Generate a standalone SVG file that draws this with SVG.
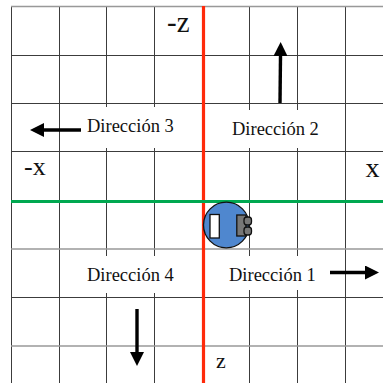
<svg xmlns="http://www.w3.org/2000/svg" width="383" height="383" viewBox="0 0 383 383">
<defs><marker id="a" markerUnits="userSpaceOnUse" markerWidth="15" markerHeight="14" refX="0" refY="7" orient="auto"><path d="M0 0L14 7L0 14Z" fill="#000"/></marker></defs>
<style>.g{stroke:#3c3c3c;stroke-width:1;fill:none}.l{stroke:#999;stroke-width:1.6}.t{font-family:"Liberation Serif",serif;fill:#111;font-size:18.5px}.c{stroke:#000;fill:none;stroke-width:3.4;marker-end:url(#a)}.m{fill:#fff;stroke:none}.r{stroke:#111;stroke-width:1.3}</style>
<rect width="383" height="383" fill="#fff"/>
<g id="grid">
<path class="g" d="M11.500 6V383M59.500 6V383M106.500 6V383M154.500 6V383M249.500 6V383M297.500 6V383M345.500 6V383"/>
<path class="g" d="M11 6.500H383M11 55.500H383M11 103.500H383M11 151.500H383"/>
<path class="g" d="M11 297.500H383"/>
<path class="l" d="M11 249H383M11 346H383M11 6.500H383"/>
</g>
<g id="axes">
<path d="M203.500 6V383" stroke="#ff2a0a" stroke-width="3.2" fill="none"/>
<path d="M11 201.500H383" stroke="#00a850" stroke-width="3.2" fill="none"/>
</g>
<g id="robot">
<circle class="r" cx="226.300" cy="225" r="22.800" fill="#4f87cf"/>
<rect class="r" x="210" y="214.500" width="9.300" height="23.500" fill="#fff"/>
<rect class="r" x="236.800" y="215" width="9.200" height="21" fill="#777"/>
<rect class="r" x="244" y="217" width="7.500" height="8" rx="3" fill="#777"/>
<rect class="r" x="244" y="227" width="7.500" height="8" rx="3" fill="#777"/>
</g>
<g id="dir1"><rect class="m" x="227" y="256" width="93" height="34"/><text class="t" x="229" y="280.500">Dirección 1</text></g>
<g id="dir2"><rect class="m" x="230" y="110" width="95" height="38"/><text class="t" x="232" y="135">Dirección 2</text></g>
<g id="dir3"><rect class="m" x="85" y="107" width="92" height="41"/><text class="t" x="87" y="132">Dirección 3</text></g>
<g id="dir4"><rect class="m" x="85" y="256" width="92" height="37"/><text class="t" x="87" y="281">Dirección 4</text></g>
<g id="labels">
<text class="t" x="167" y="32" style="font-size:29px">-z</text>
<text class="t" x="24" y="175" style="font-size:26px">-x</text>
<text class="t" x="365.500" y="177" style="font-size:28px">x</text>
<text class="t" x="216" y="368" style="font-size:22px">z</text>
</g>
<g id="connectors">
<path class="c" d="M280 103L280.500 56"/>
<path class="c" d="M81 130H44"/>
<path class="c" d="M330 272.500H365"/>
<path class="c" d="M137 309V352"/>
</g>
</svg>
